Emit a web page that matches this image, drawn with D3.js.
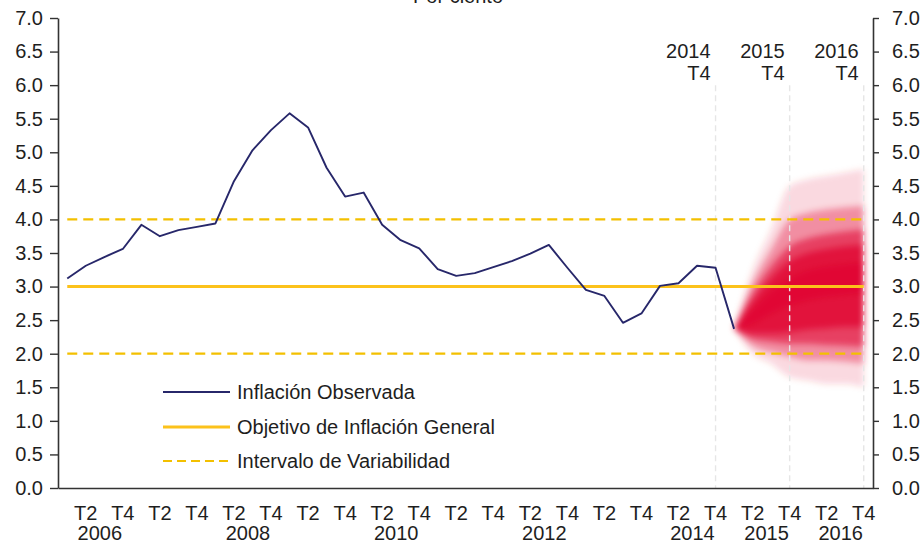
<!DOCTYPE html>
<html>
<head>
<meta charset="utf-8">
<script src="https://cdn.jsdelivr.net/npm/d3@7"></script>
<style>
  body { margin: 0; background: #fff; }
  svg { display: block; }
  text { font-family: "Liberation Sans", Arial, sans-serif; fill: #1e1e1e; }
</style>
</head>
<body>
<svg id="chart" width="923" height="541"></svg>
<script>
// Categories: quarters 2006 T1 .. 2016 T4
const years = ["2006","2007","2008","2009","2010","2011","2012","2013","2014","2015","2016"];
const quarterNames = ["T1","T2","T3","T4"];

// Observed annual core inflation, quarterly, 2006 T1 .. 2015 T1 (per cent)
const observed = [
  3.12, 3.31, 3.44, 3.56,
  3.92, 3.75, 3.84, 3.89,
  3.94, 4.57, 5.03, 5.33,
  5.58, 5.37, 4.77, 4.34,
  4.40, 3.92, 3.69, 3.57,
  3.26, 3.16, 3.20, 3.29,
  3.38, 3.49, 3.62, 3.28,
  2.95, 2.86, 2.46, 2.60,
  3.01, 3.05, 3.31, 3.28,
  2.37
];

// Fan chart: forecast quarters and interval bounds (outer to inner)
const fanQuarters = ["2015T1","2015T2","2015T3","2015T4","2016T1","2016T2","2016T3","2016T4"];
const fan90Low  = [2.37, 2.00, 1.85, 1.65, 1.60, 1.55, 1.55, 1.50];
const fan90High = [2.37, 3.25, 3.85, 4.50, 4.60, 4.65, 4.70, 4.75];
const fan70Low  = [2.37, 2.12, 2.02, 1.95, 1.90, 1.90, 1.88, 1.85];
const fan70High = [2.37, 3.05, 3.55, 4.00, 4.10, 4.15, 4.18, 4.20];
const fan50Low  = [2.37, 2.22, 2.18, 2.15, 2.15, 2.13, 2.12, 2.10];
const fan50High = [2.37, 2.90, 3.30, 3.60, 3.72, 3.78, 3.82, 3.85];
const fan30Low  = [2.37, 2.30, 2.30, 2.32, 2.36, 2.38, 2.40, 2.40];
const fan30High = [2.37, 2.78, 3.12, 3.38, 3.50, 3.56, 3.60, 3.62];
const fan10Low  = [2.37, 2.45, 2.60, 2.72, 2.80, 2.85, 2.88, 2.90];
const fan10High = [2.37, 2.65, 2.92, 3.12, 3.24, 3.30, 3.33, 3.35];

// Target and variability interval
const targetValue = 3.0;
const intervalLow = 2.0;
const intervalHigh = 4.0;

// Tick labels
const yTicks = [0, 0.5, 1, 1.5, 2, 2.5, 3, 3.5, 4, 4.5, 5, 5.5, 6, 6.5, 7];
const quarterTickNames = ["T2", "T4"];
const yearLabels = ["2006","2008","2010","2012","2014","2015","2016"];
const horizonMarks = ["2014T4","2015T4","2016T4"];

const legendItems = [
  { label: "Inflación Observada", kind: "observed" },
  { label: "Objetivo de Inflación General", kind: "target" },
  { label: "Intervalo de Variabilidad", kind: "interval" }
];

// ---------------------------------------------------------------------
const allQuarters = years.flatMap(yr => quarterNames.map(q => yr + q));
const svg = d3.select("#chart");
const fontSize = 20;

const plotLeft = 58, plotRight = 873, plotTop = 18, plotBottom = 488;
const x = d3.scaleBand().domain(allQuarters).range([plotLeft, plotRight]);
const cx = q => x(q) + x.bandwidth() / 2;
const y = d3.scaleLinear().domain([0, 7]).range([plotBottom, plotTop]);

const navy = "#27276a";
const gold = "#fcc21b";
const goldDash = "#f3c000";
const fanRed = "#e0002d";

// Title (partly above the frame)
svg.append("text")
  .attr("x", 458).attr("y", 3)
  .attr("text-anchor", "middle")
  .style("font-size", fontSize + "px")
  .text("Por ciento");

// Blur for the soft fan edges
const defs = svg.append("defs");
defs.append("filter").attr("id", "fanBlur")
  .attr("x", "-20%").attr("y", "-20%").attr("width", "140%").attr("height", "140%")
  .append("feGaussianBlur").attr("stdDeviation", 3.4);

// Fan chart
const fanBands = [
  { lo: fan90Low, hi: fan90High, op: 0.15 },
  { lo: fan70Low, hi: fan70High, op: 0.35 },
  { lo: fan50Low, hi: fan50High, op: 0.55 },
  { lo: fan30Low, hi: fan30High, op: 0.70 },
  { lo: fan10Low, hi: fan10High, op: 0.70 }
];
const fanG = svg.append("g").attr("filter", "url(#fanBlur)");
fanBands.forEach(b => {
  const area = d3.area()
    .x((d, i) => cx(fanQuarters[i]))
    .y0((d, i) => y(b.lo[i]))
    .y1((d, i) => y(b.hi[i]))
    .curve(d3.curveMonotoneX);
  fanG.append("path")
    .datum(fanQuarters)
    .attr("d", area)
    .attr("fill", fanRed)
    .attr("fill-opacity", b.op);
});

// Horizon markers
horizonMarks.forEach(q => {
  svg.append("line")
    .attr("x1", cx(q)).attr("x2", cx(q))
    .attr("y1", y(6.0)).attr("y2", plotBottom)
    .attr("stroke", "#e6e6e6")
    .attr("stroke-width", 1.4)
    .attr("stroke-dasharray", "6,4");
});
horizonMarks.forEach(q => {
  const yr = q.slice(0, 4), qq = q.slice(4);
  const t = svg.append("text")
    .attr("text-anchor", "end")
    .style("font-size", fontSize + "px");
  t.append("tspan").attr("x", cx(q) - 5).attr("y", 58).text(yr);
  t.append("tspan").attr("x", cx(q) - 5).attr("y", 80).text(qq);
});

// Target and interval lines
const firstQ = allQuarters[0], lastQ = allQuarters[allQuarters.length - 1];
[intervalHigh, intervalLow].forEach(v => {
  svg.append("line")
    .attr("x1", cx(firstQ)).attr("x2", cx(lastQ))
    .attr("y1", y(v)).attr("y2", y(v))
    .attr("stroke", goldDash).attr("stroke-width", 2.2)
    .attr("stroke-dasharray", "10,6");
});
svg.append("line")
  .attr("x1", cx(firstQ)).attr("x2", cx(lastQ))
  .attr("y1", y(targetValue)).attr("y2", y(targetValue))
  .attr("stroke", gold).attr("stroke-width", 3);

// Observed inflation
const obsLine = d3.line()
  .x((d, i) => cx(allQuarters[i]))
  .y(d => y(d));
svg.append("path")
  .datum(observed)
  .attr("d", obsLine)
  .attr("fill", "none")
  .attr("stroke", navy)
  .attr("stroke-width", 1.9)
  .attr("stroke-linejoin", "round");

// Axes
const axisColor = "#333";
const fmt = d3.format(".1f");
const gLeft = svg.append("g").attr("transform", `translate(${plotLeft},0)`)
  .call(d3.axisLeft(y).tickValues(yTicks).tickFormat(fmt).tickSize(8).tickSizeOuter(0).tickPadding(7));
const gRight = svg.append("g").attr("transform", `translate(${plotRight},0)`)
  .call(d3.axisRight(y).tickValues(yTicks).tickFormat(fmt).tickSize(6).tickSizeOuter(0).tickPadding(13));
const xTickQuarters = allQuarters.filter(q => quarterTickNames.includes(q.slice(4)));
const gBottom = svg.append("g").attr("transform", `translate(0,${plotBottom})`)
  .call(d3.axisBottom(x).tickValues(xTickQuarters).tickFormat(q => q.slice(4)).tickSize(0).tickSizeOuter(0).tickPadding(18));

[gLeft, gRight, gBottom].forEach(g => {
  g.selectAll("path.domain").attr("stroke", axisColor).attr("stroke-width", 1.6);
  g.selectAll(".tick line").attr("stroke", axisColor).attr("stroke-width", 1.4);
  g.selectAll("text").style("font-size", fontSize + "px").style("font-family", '"Liberation Sans", Arial, sans-serif').attr("fill", "#1e1e1e");
});

// Year labels under the T2 ticks
svg.append("g").selectAll("text")
  .data(yearLabels)
  .join("text")
  .attr("x", d => cx(d + "T2") + 14)
  .attr("y", 540)
  .attr("text-anchor", "middle")
  .style("font-size", fontSize + "px")
  .text(d => d);

// Legend
const legend = svg.append("g");
const legendRowY = [392, 427, 461];
legendItems.forEach((item, i) => {
  const yy = legendRowY[i];
  const ln = legend.append("line")
    .attr("x1", 163).attr("x2", 230)
    .attr("y1", yy).attr("y2", yy);
  if (item.kind === "observed") ln.attr("stroke", navy).attr("stroke-width", 1.9);
  if (item.kind === "target") ln.attr("stroke", gold).attr("stroke-width", 3);
  if (item.kind === "interval") ln.attr("stroke", goldDash).attr("stroke-width", 2.2).attr("stroke-dasharray", "9,5");
  legend.append("text")
    .attr("x", 237).attr("y", yy + 7)
    .style("font-size", fontSize + "px")
    .text(item.label);
});
</script>
</body>
</html>
